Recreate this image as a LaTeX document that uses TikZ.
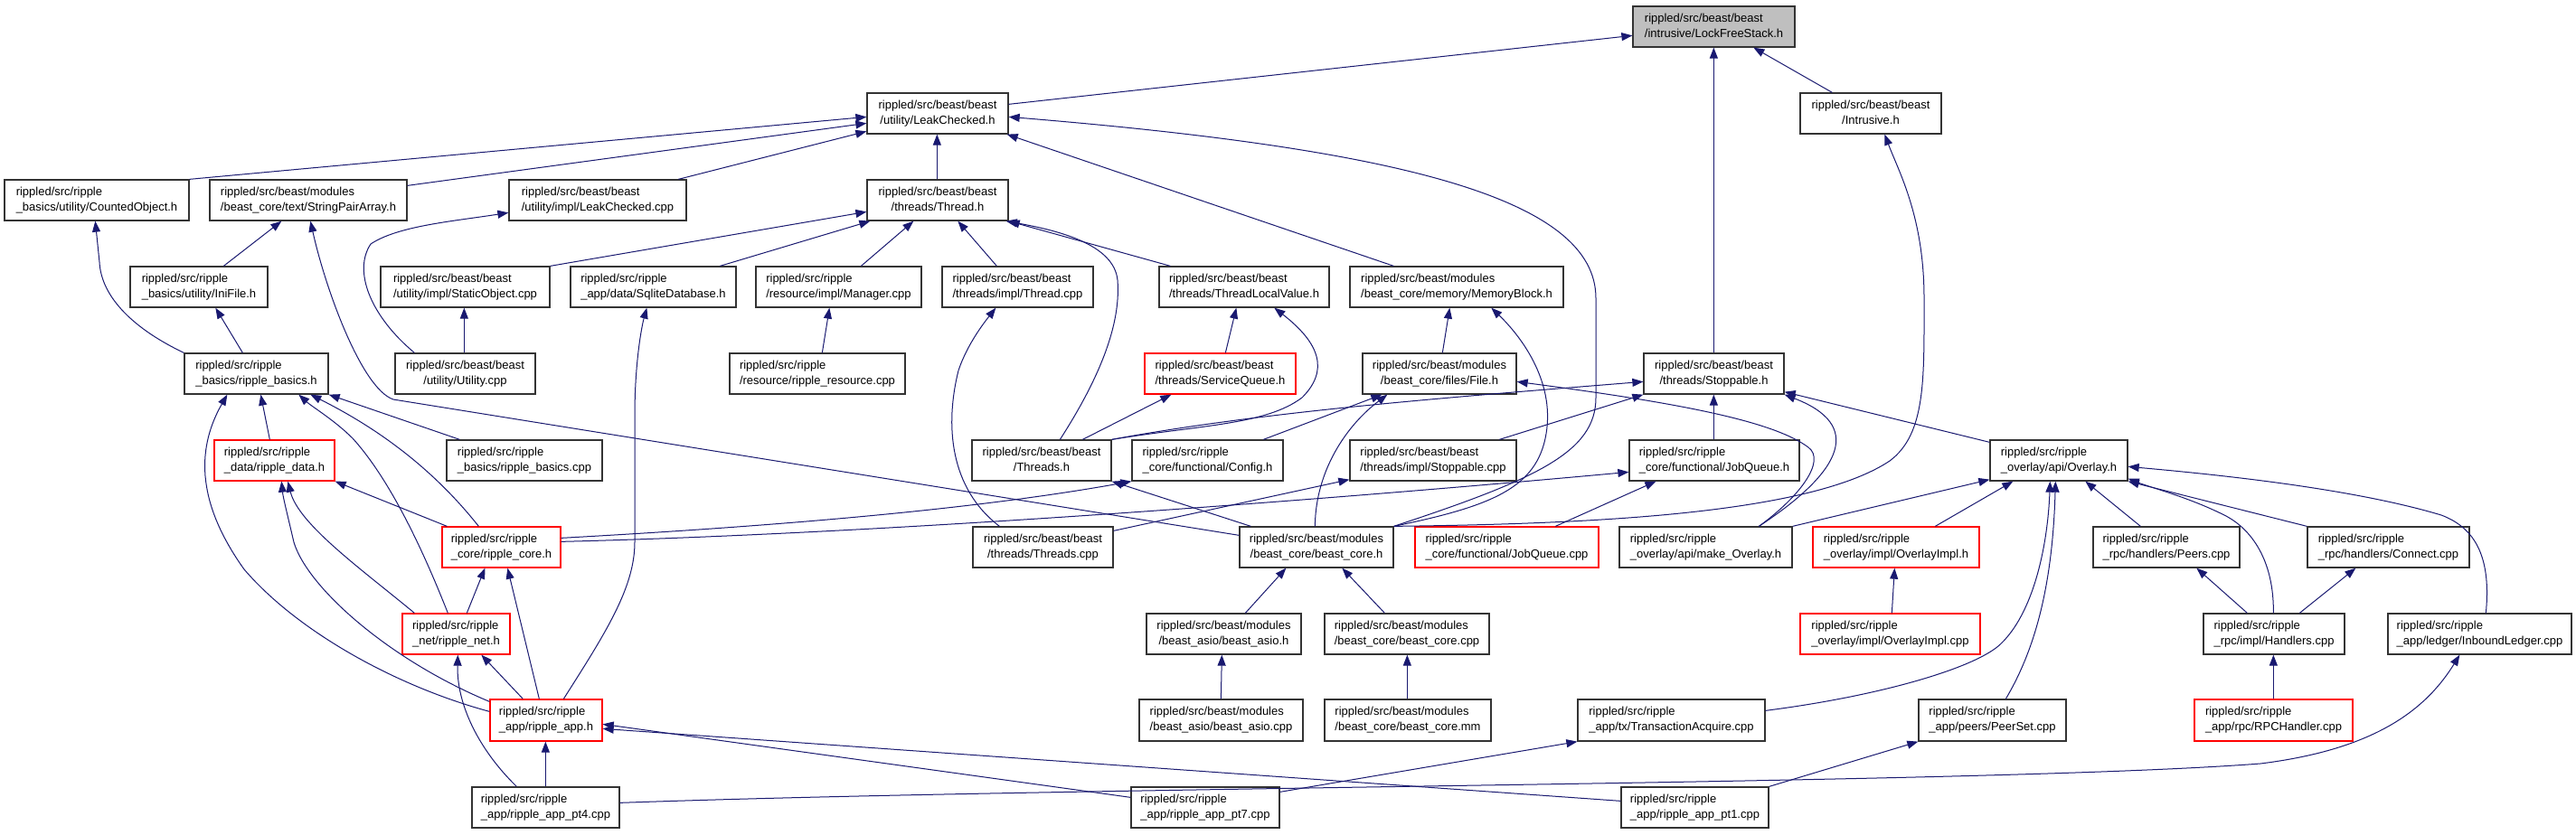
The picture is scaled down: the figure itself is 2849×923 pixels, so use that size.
\documentclass[tikz,border=0pt]{standalone}
\usepackage{fontspec}
\setmainfont{Liberation Sans}
\usetikzlibrary{arrows.meta,calc}
\definecolor{edgec}{HTML}{191970}
\definecolor{boxred}{HTML}{FF0000}
\definecolor{boxgray}{HTML}{BFBFBF}
\newcommand{\twol}[2]{\begin{tabular}{@{}c@{}}\multicolumn{1}{@{}l@{}}{#1}\\#2\end{tabular}}
\newcommand{\bx}[8]{%
\node[#8, minimum width={(#4-#2)*0.5pt}, minimum height={(#5-#3)*0.5pt}] (#1) at ({(#2+#4)/2},{(#3+#5)/2}) {\twol{#6}{#7}};}
\begin{document}
\begin{tikzpicture}[x=0.5pt,y=-0.5pt,
  box/.style={draw=black!80, line width=0.65pt, fill=white, inner sep=0pt, font=\fontsize{6.5}{8.5}\selectfont},
  rbox/.style={box, draw=boxred},
  gbox/.style={box, fill=boxgray},
  edge/.style={draw=edgec, line width=0.5pt, -{Triangle[length=6pt,width=4.5pt]}}]
\fill[white] (0,0) rectangle (2849,923);
\useasboundingbox (0,0) rectangle (2849,923);
% nodes
\bx{lfs}{1806}{7}{1985}{52}{rippled/src/beast/beast}{/intrusive/LockFreeStack.h}{gbox}
\bx{lch}{959}{103}{1115}{148}{rippled/src/beast/beast}{/utility/LeakChecked.h}{box}
\bx{intr}{1991}{103}{2147}{148}{rippled/src/beast/beast}{/Intrusive.h}{box}
\bx{cobj}{5}{199}{209}{244}{rippled/src/ripple}{\_basics/utility/CountedObject.h}{box}
\bx{spa}{232}{199}{450}{244}{rippled/src/beast/modules}{/beast\_core/text/StringPairArray.h}{box}
\bx{lcc}{563}{199}{759}{244}{rippled/src/beast/beast}{/utility/impl/LeakChecked.cpp}{box}
\bx{thr}{959}{199}{1115}{244}{rippled/src/beast/beast}{/threads/Thread.h}{box}
\bx{ini}{144}{295}{296}{340}{rippled/src/ripple}{\_basics/utility/IniFile.h}{box}
\bx{sobj}{421}{295}{608}{340}{rippled/src/beast/beast}{/utility/impl/StaticObject.cpp}{box}
\bx{sqlite}{631}{295}{814}{340}{rippled/src/ripple}{\_app/data/SqliteDatabase.h}{box}
\bx{mgr}{836}{295}{1019}{340}{rippled/src/ripple}{/resource/impl/Manager.cpp}{box}
\bx{thrcpp}{1042}{295}{1209}{340}{rippled/src/beast/beast}{/threads/impl/Thread.cpp}{box}
\bx{tlv}{1282}{295}{1470}{340}{rippled/src/beast/beast}{/threads/ThreadLocalValue.h}{box}
\bx{mem}{1493}{295}{1729}{340}{rippled/src/beast/modules}{/beast\_core/memory/MemoryBlock.h}{box}
\bx{rbh}{204}{391}{363}{436}{rippled/src/ripple}{\_basics/ripple\_basics.h}{box}
\bx{util}{437}{391}{592}{436}{rippled/src/beast/beast}{/utility/Utility.cpp}{box}
\bx{rres}{807}{391}{1001}{436}{rippled/src/ripple}{/resource/ripple\_resource.cpp}{box}
\bx{sq}{1266}{391}{1433}{436}{rippled/src/beast/beast}{/threads/ServiceQueue.h}{rbox}
\bx{file}{1507}{391}{1677}{436}{rippled/src/beast/modules}{/beast\_core/files/File.h}{box}
\bx{stop}{1818}{391}{1973}{436}{rippled/src/beast/beast}{/threads/Stoppable.h}{box}
\bx{rdata}{237}{487}{370}{532}{rippled/src/ripple}{\_data/ripple\_data.h}{rbox}
\bx{rbcpp}{494}{487}{666}{532}{rippled/src/ripple}{\_basics/ripple\_basics.cpp}{box}
\bx{ths}{1075}{487}{1229}{532}{rippled/src/beast/beast}{/Threads.h}{box}
\bx{cfg}{1252}{487}{1419}{532}{rippled/src/ripple}{\_core/functional/Config.h}{box}
\bx{stopcpp}{1493}{487}{1677}{532}{rippled/src/beast/beast}{/threads/impl/Stoppable.cpp}{box}
\bx{jqh}{1802}{487}{1990}{532}{rippled/src/ripple}{\_core/functional/JobQueue.h}{box}
\bx{ovl}{2201}{487}{2353}{532}{rippled/src/ripple}{\_overlay/api/Overlay.h}{box}
\bx{rcore}{489}{583}{620}{628}{rippled/src/ripple}{\_core/ripple\_core.h}{rbox}
\bx{thscpp}{1076}{583}{1231}{628}{rippled/src/beast/beast}{/threads/Threads.cpp}{box}
\bx{bch}{1371}{583}{1541}{628}{rippled/src/beast/modules}{/beast\_core/beast\_core.h}{box}
\bx{jqcpp}{1565}{583}{1768}{628}{rippled/src/ripple}{\_core/functional/JobQueue.cpp}{rbox}
\bx{mko}{1791}{583}{1982}{628}{rippled/src/ripple}{\_overlay/api/make\_Overlay.h}{box}
\bx{ovimpl}{2005}{583}{2189}{628}{rippled/src/ripple}{\_overlay/impl/OverlayImpl.h}{rbox}
\bx{peers}{2315}{583}{2477}{628}{rippled/src/ripple}{\_rpc/handlers/Peers.cpp}{box}
\bx{conn}{2552}{583}{2731}{628}{rippled/src/ripple}{\_rpc/handlers/Connect.cpp}{box}
\bx{rnet}{445}{679}{564}{724}{rippled/src/ripple}{\_net/ripple\_net.h}{rbox}
\bx{basio}{1268}{679}{1439}{724}{rippled/src/beast/modules}{/beast\_asio/beast\_asio.h}{box}
\bx{bccpp}{1465}{679}{1647}{724}{rippled/src/beast/modules}{/beast\_core/beast\_core.cpp}{box}
\bx{ovimplcpp}{1991}{679}{2190}{724}{rippled/src/ripple}{\_overlay/impl/OverlayImpl.cpp}{rbox}
\bx{hand}{2437}{679}{2593}{724}{rippled/src/ripple}{\_rpc/impl/Handlers.cpp}{box}
\bx{inb}{2641}{679}{2844}{724}{rippled/src/ripple}{\_app/ledger/InboundLedger.cpp}{box}
\bx{rapp}{542}{774}{666}{820}{rippled/src/ripple}{\_app/ripple\_app.h}{rbox}
\bx{basiocpp}{1260}{774}{1441}{820}{rippled/src/beast/modules}{/beast\_asio/beast\_asio.cpp}{box}
\bx{bcmm}{1465}{774}{1649}{820}{rippled/src/beast/modules}{/beast\_core/beast\_core.mm}{box}
\bx{ta}{1745}{774}{1952}{820}{rippled/src/ripple}{\_app/tx/TransactionAcquire.cpp}{box}
\bx{peerset}{2122}{774}{2285}{820}{rippled/src/ripple}{\_app/peers/PeerSet.cpp}{box}
\bx{rpch}{2427}{774}{2602}{820}{rippled/src/ripple}{\_app/rpc/RPCHandler.cpp}{rbox}
\bx{pt4}{522}{871}{685}{916}{rippled/src/ripple}{\_app/ripple\_app\_pt4.cpp}{box}
\bx{pt7}{1251}{871}{1415}{916}{rippled/src/ripple}{\_app/ripple\_app\_pt7.cpp}{box}
\bx{pt1}{1793}{871}{1956}{916}{rippled/src/ripple}{\_app/ripple\_app\_pt1.cpp}{box}
% edges to LockFreeStack.h
\draw[edge] ($(lch.north east)+(0,13)$) -- ($(lfs.north west)+(0,33)$);
\draw[edge] ($(stop.north west)+(78,0)$) -- ($(lfs.south west)+(90,0)$);
\draw[edge] ($(intr.north west)+(36,0)$) -- ($(lfs.south west)+(134,0)$);
\draw[edge] (bch.north east) .. controls (1750,580) and (2000,570) .. (2090,510) .. controls (2130,480) and (2128,420) .. (2128,330) .. controls (2128,240) and (2100,190) .. ($(intr.south west)+(94,0)$);
% LeakChecked.h
\draw[edge] (cobj.north east) -- ($(lch.north west)+(0,27)$);
\draw[edge] ($(spa.north east)+(0,7)$) -- ($(lch.north west)+(0,34)$);
\draw[edge] ($(lcc.north west)+(188,0)$) -- ($(lch.north west)+(0,43)$);
\draw[edge] ($(thr.north west)+(78,0)$) -- ($(lch.south west)+(78,0)$);
\draw[edge] ($(mem.north west)+(49,0)$) -- ($(lch.south east)+(-2,0)$);
\draw[edge] (bch.north east) .. controls (1700,530) and (1765,500) .. (1765,440) -- (1765,330) .. controls (1765,220) and (1550,165) .. ($(lch.north east)+(0,27)$);
% Thread.h
\draw[edge] (sobj.north east) -- ($(thr.north west)+(0,36)$);
\draw[edge] ($(sqlite.north west)+(166,0)$) -- ($(thr.south west)+(4,0)$);
\draw[edge] ($(mgr.north west)+(117,0)$) -- ($(thr.south west)+(52,0)$);
\draw[edge] ($(thrcpp.north west)+(61,0)$) -- ($(thr.south west)+(101,0)$);
\draw[edge] ($(ths.north west)+(98,0)$) .. controls (1215,420) and (1240,360) .. (1236,310) .. controls (1232,270) and (1170,255) .. ($(thr.south east)+(-3,0)$);
\draw[edge] ($(tlv.north west)+(13,0)$) -- (thr.south east);
% ThreadLocalValue.h
\draw[edge] ($(sq.north west)+(90,0)$) -- ($(tlv.south west)+(86,0)$);
\draw[edge] (ths.north east) .. controls (1330,470) and (1400,470) .. (1440,440) .. controls (1470,410) and (1460,380) .. ($(tlv.south west)+(128,0)$);
\draw[edge] ($(ths.north west)+(123,0)$) -- ($(sq.south west)+(30,0)$);
% Stoppable.h
\draw[edge] (ths.north east) .. controls (1400,455) and (1600,440) .. ($(stop.north west)+(0,32)$);
\draw[edge] ($(stopcpp.north west)+(166,0)$) -- (stop.south west);
\draw[edge] ($(jqh.north west)+(94,0)$) -- ($(stop.south west)+(78,0)$);
\draw[edge] ($(mko.north west)+(155,0)$) .. controls (2040,520) and (2060,470) .. (stop.south east);
\draw[edge] ($(ovl.north west)+(0,3)$) -- ($(stop.south east)+(0,-3)$);
% MemoryBlock.h
\draw[edge] ($(file.north west)+(89,0)$) -- ($(mem.south west)+(111,0)$);
\draw[edge] (bch.north east) .. controls (1650,560) and (1700,540) .. (1710,480) .. controls (1720,420) and (1680,370) .. ($(mem.south west)+(157,0)$);
% File.h
\draw[edge] ($(cfg.north west)+(146,0)$) -- ($(file.south west)+(22,0)$);
\draw[edge] ($(bch.north west)+(84,0)$) .. controls (1455,520) and (1490,470) .. ($(file.south west)+(28,0)$);
\draw[edge] ($(mko.north west)+(155,0)$) .. controls (1990,550) and (2020,510) .. (2000,495) .. controls (1960,465) and (1850,445) .. ($(file.north east)+(0,32)$);
% JobQueue.h, Config.h, Threads.h
\draw[edge] ($(jqcpp.north west)+(156,0)$) -- ($(jqh.south west)+(30,0)$);
\draw[edge] ($(rcore.north east)+(0,17)$) .. controls (1000,590) and (1500,550) .. ($(jqh.north west)+(0,36)$);
\draw[edge] ($(rcore.north east)+(0,13)$) .. controls (900,580) and (1100,560) .. (cfg.south west);
\draw[edge] ($(bch.north west)+(13,0)$) -- (ths.south east);
\draw[edge] ($(thscpp.north east)+(0,5)$) -- ($(stopcpp.south west)+(0,-2)$);
\draw[edge] ($(thscpp.north west)+(30,0)$) .. controls (1050,540) and (1045,470) .. (1060,410) .. controls (1070,380) and (1090,355) .. ($(thrcpp.south west)+(60,0)$);
% StringPairArray.h etc.
\draw[edge] ($(bch.north west)+(0,10)$) -- (435,442) .. controls (400,430) and (360,320) .. ($(spa.south west)+(112,0)$);
\draw[edge] ($(ini.north west)+(104,0)$) -- ($(spa.south west)+(80,0)$);
\draw[edge] ($(rbh.north west)+(65,0)$) -- ($(ini.south west)+(95,0)$);
\draw[edge] (rbh.north west) .. controls (150,365) and (112,330) .. (110,290) -- ($(cobj.south west)+(101,0)$);
\draw[edge] ($(util.north west)+(22,0)$) .. controls (410,350) and (390,300) .. (410,270) .. controls (440,250) and (500,245) .. ($(lcc.north west)+(0,37)$);
\draw[edge] ($(util.north west)+(77,0)$) -- ($(sobj.south west)+(93,0)$);
\draw[edge] ($(rres.north west)+(103,0)$) -- ($(mgr.south west)+(82,0)$);
\draw[edge] ($(rapp.north west)+(82,0)$) .. controls (670,700) and (702,650) .. (702,600) -- (702,460) .. controls (702,400) and (710,360) .. ($(sqlite.south west)+(85,0)$);
% ripple_basics.h
\draw[edge] ($(rdata.north west)+(62,0)$) -- ($(rbh.south west)+(85,0)$);
\draw[edge] ($(rbcpp.north west)+(15,0)$) -- (rbh.south east);
\draw[edge] ($(rcore.north west)+(41,0)$) .. controls (480,520) and (420,475) .. ($(rbh.south west)+(140,0)$);
\draw[edge] ($(rnet.north west)+(51,0)$) .. controls (480,640) and (440,540) .. (390,485) .. controls (370,465) and (345,450) .. ($(rbh.south west)+(127,0)$);
\draw[edge] ($(rapp.north west)+(0,14)$) .. controls (440,760) and (330,700) .. (270,630) .. controls (220,560) and (215,500) .. ($(rbh.south west)+(48,0)$);
% ripple_data.h
\draw[edge] ($(rcore.north west)+(6,0)$) -- (rdata.south east);
\draw[edge] ($(rnet.north west)+(14,0)$) .. controls (400,630) and (330,580) .. ($(rdata.south west)+(82,0)$);
\draw[edge] ($(rapp.north west)+(0,3)$) .. controls (430,730) and (340,650) .. (325,600) .. controls (318,570) and (313,550) .. ($(rdata.south west)+(75,0)$);
% ripple_core.h, ripple_net.h, ripple_app.h
\draw[edge] ($(rnet.north west)+(72,0)$) -- ($(rcore.south west)+(48,0)$);
\draw[edge] ($(rapp.north west)+(55,0)$) -- ($(rcore.south west)+(73,0)$);
\draw[edge] ($(rapp.north west)+(37,0)$) -- ($(rnet.south west)+(88,0)$);
\draw[edge] ($(pt4.north west)+(50,0)$) .. controls (530,830) and (505,780) .. ($(rnet.south west)+(62,0)$);
\draw[edge] ($(pt4.north west)+(82,0)$) -- ($(rapp.south west)+(62,0)$);
\draw[edge] ($(pt7.north west)+(0,12)$) -- ($(rapp.north east)+(0,28)$);
\draw[edge] ($(pt1.north west)+(0,16)$) -- ($(rapp.north east)+(0,33)$);
% bottom right
\draw[edge] ($(pt4.north east)+(0,18)$) .. controls (1200,870) and (2200,868) .. (2500,845) .. controls (2620,830) and (2680,790) .. ($(inb.south west)+(80,0)$);
\draw[edge] ($(pt7.north east)+(0,6)$) -- (ta.south west);
\draw[edge] (pt1.north east) -- (peerset.south west);
% Overlay.h
\draw[edge] ($(ta.north east)+(0,13)$) .. controls (2080,770) and (2180,740) .. (2210,715) .. controls (2250,680) and (2265,600) .. ($(ovl.south west)+(67,0)$);
\draw[edge] ($(peerset.north west)+(97,0)$) .. controls (2250,720) and (2270,650) .. ($(ovl.south west)+(73,0)$);
\draw[edge] ($(ovimpl.north west)+(136,0)$) -- ($(ovl.south west)+(26,0)$);
\draw[edge] ($(peers.north west)+(53,0)$) -- ($(ovl.south west)+(106,0)$);
\draw[edge] ($(hand.north west)+(78,0)$) .. controls (2515,620) and (2490,585) .. (2460,570) .. controls (2420,550) and (2380,540) .. ($(ovl.south east)+(0,-3)$);
\draw[edge] (conn.north west) -- (ovl.south east);
\draw[edge] ($(inb.north west)+(109,0)$) .. controls (2755,620) and (2740,585) .. (2700,570) .. controls (2600,540) and (2450,525) .. ($(ovl.north east)+(0,30)$);
\draw[edge] (mko.north east) -- ($(ovl.south west)+(0,-2)$);
% misc
\draw[edge] ($(ovimplcpp.north west)+(102,0)$) -- ($(ovimpl.south west)+(91,0)$);
\draw[edge] ($(hand.north west)+(49,0)$) -- ($(peers.south west)+(115,0)$);
\draw[edge] ($(hand.north west)+(107,0)$) -- ($(conn.south west)+(54,0)$);
\draw[edge] ($(rpch.north west)+(88,0)$) -- ($(hand.south west)+(78,0)$);
\draw[edge] ($(basio.north west)+(110,0)$) -- ($(bch.south west)+(52,0)$);
\draw[edge] ($(bccpp.north west)+(67,0)$) -- ($(bch.south west)+(114,0)$);
\draw[edge] ($(basiocpp.north west)+(91,0)$) -- ($(basio.south west)+(84,0)$);
\draw[edge] ($(bcmm.north west)+(92,0)$) -- ($(bccpp.south west)+(92,0)$);
\end{tikzpicture}
\end{document}
